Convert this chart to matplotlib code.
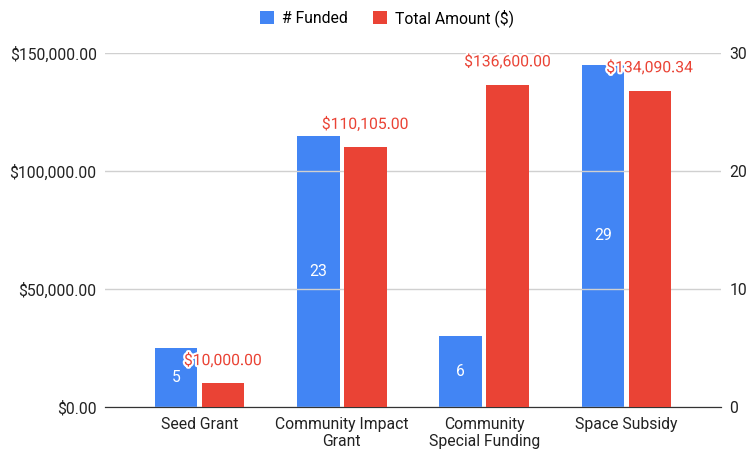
import matplotlib.pyplot as plt
import matplotlib.patheffects as pe
import numpy as np

plt.rcParams['font.family'] = ['Roboto', 'DejaVu Sans']

categories = ["Seed Grant", "Community Impact\nGrant", "Community\nSpecial Funding", "Space Subsidy"]
funded = [5, 23, 6, 29]
amount = [10000.00, 110105.00, 136600.00, 134090.34]
left_ticks = [0, 50000, 100000, 150000]
right_ticks = [0, 10, 20, 30]

blue = '#4285F4'
red = '#EA4335'
fs = 11.3

fig = plt.figure(figsize=(7.47, 4.53), dpi=100)
ax = fig.add_axes([105/747, 1-407/453, 616/747, 354/453])
ax2 = ax.twinx()

x = np.arange(len(categories))
w = 0.30
gap = 0.015

bars_r = ax.bar(x + w/2 + gap, amount, w, color=red, label='Total Amount ($)', zorder=3)
bars_b = ax2.bar(x - w/2 - gap, funded, w, color=blue, label='# Funded', zorder=3)

ax.set_ylim(0, 150000)
ax2.set_ylim(0, 30)
ax.set_xlim(-0.665, 3.665)
ax.set_yticks(left_ticks)
ax.set_yticklabels(['${:,.2f}'.format(v) for v in left_ticks])
ax2.set_yticks(right_ticks)
ax.set_xticks(x)
ax.set_xticklabels(categories)

ax.grid(axis='y', color='#d0d0d0', linewidth=1, zorder=0)
for a in (ax, ax2):
    for s in ['top', 'right', 'left']:
        a.spines[s].set_visible(False)
    a.spines['bottom'].set_color('#333333')
    a.tick_params(length=0, labelsize=fs, colors='#222222')
ax.tick_params(axis='y', pad=6)
ax2.tick_params(axis='y', pad=6)
ax.tick_params(axis='x', pad=7)

# put the red bars axis above the blue one so labels sit on top
ax2.set_zorder(1)
ax.set_zorder(2)
ax.patch.set_visible(False)

for xi, v in zip(x, funded):
    ax2.text(xi - w/2 - gap, v/2, str(v), ha='center', va='center',
             color='white', fontsize=fs, zorder=5)

halo = [pe.withStroke(linewidth=3, foreground='white')]
for xi, v in zip(x, amount):
    ax.annotate('${:,.2f}'.format(v), (xi + w/2 + gap, v), xytext=(0, 11),
                textcoords='offset points', ha='center', va='bottom',
                color=red, fontsize=fs, path_effects=halo, zorder=6)

h1, l1 = ax2.get_legend_handles_labels()
h2, l2 = ax.get_legend_handles_labels()
fig.legend(h1 + h2, l1 + l2, loc='center', bbox_to_anchor=(387/747, 1-18/453),
           ncol=2, frameon=False, fontsize=fs, handlelength=0.9, handleheight=0.9,
           columnspacing=1.6, handletextpad=0.5)

plt.savefig('out.png', dpi=100)
